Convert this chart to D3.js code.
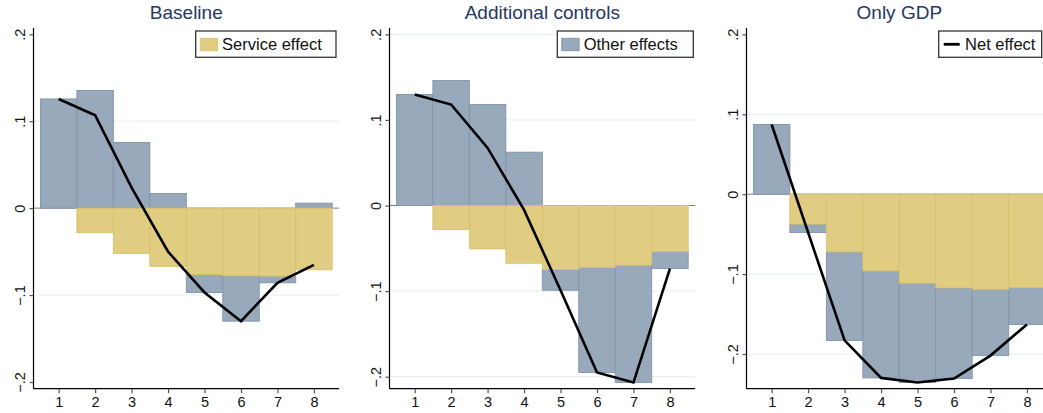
<!DOCTYPE html>
<html>
<head>
<meta charset="utf-8">
<script src="https://cdn.jsdelivr.net/npm/d3@7"></script>
<style>
  html, body { margin: 0; padding: 0; background: #fff; }
  svg { display: block; }
  text { font-family: "Liberation Sans", Arial, sans-serif; }
</style>
</head>
<body>
<svg id="chart" width="1043" height="413"></svg>
<script>
// ---------------- data ----------------
const horizons = [1, 2, 3, 4, 5, 6, 7, 8];
const xTickValues = [1, 2, 3, 4, 5, 6, 7, 8];
const panelTitles = ["Baseline", "Additional controls", "Only GDP"];
const legendLabels = ["Service effect", "Other effects", "Net effect"];
const yTickValues = [-0.2, -0.1, 0, 0.1, 0.2];
const yTickLabels = ["\u2212.2", "\u2212.1", "0", ".1", ".2"];

const serviceBaseline = [0, -0.0284, -0.052, -0.067, -0.0764, -0.0778, -0.0782, -0.0709];
const otherBaseline   = [0.1256, 0.1353, 0.0755, 0.0169, -0.0206, -0.0522, -0.0077, 0.0057];
const netBaseline     = [0.1256, 0.1069, 0.0235, -0.0501, -0.097, -0.130, -0.0859, -0.0652];

const serviceControls = [0, -0.028, -0.0507, -0.0674, -0.0748, -0.0725, -0.0697, -0.0537];
const otherControls   = [0.1297, 0.146, 0.118, 0.0623, -0.0242, -0.1225, -0.1371, -0.0199];
const netControls     = [0.1297, 0.118, 0.0673, -0.0051, -0.099, -0.195, -0.2068, -0.0736];

const serviceGDP = [0, -0.0375, -0.0722, -0.096, -0.1114, -0.1173, -0.119, -0.1168];
const otherGDP   = [0.0872, -0.0105, -0.1108, -0.1339, -0.1243, -0.1134, -0.083, -0.0462];
const netGDP     = [0.0872, -0.048, -0.183, -0.2299, -0.2357, -0.2307, -0.202, -0.163];

// ---------------- layout / style ----------------
const panels = [
  { title: panelTitles[0], service: serviceBaseline, other: otherBaseline, net: netBaseline,
    axisX: 33.5, yDomain: [-0.2077, 0.2072], grid: [0.1, -0.1], legendIdx: 0, legendX: [195.7, 336] },
  { title: panelTitles[1], service: serviceControls, other: otherControls, net: netControls,
    axisX: 389.5, yDomain: [-0.214, 0.2074], grid: [0.2, 0.1, -0.1, -0.2], legendIdx: 1, legendX: [557.3, 693.3] },
  { title: panelTitles[2], service: serviceGDP, other: otherGDP, net: netGDP,
    axisX: 746.5, yDomain: [-0.2434, 0.2079], grid: [0.1, -0.1, -0.2], legendIdx: 2, legendX: [938.7, 1041.7] }
];

const plotTop = 28, plotBottom = 388.7, plotWidth = 305.6;
const xDomain = [0.31, 8.69];
const colService = "#e0cd81", colServiceEdge = "#d6c26c";
const colOther = "#97a9bb", colOtherEdge = "#8093a9";
const titleColor = "#26385f";
const tickFont = "14.5px";

const svg = d3.select("#chart");
svg.append("rect").attr("width", 1043).attr("height", 413).attr("fill", "#fff");

panels.forEach(p => {
  const x = d3.scaleLinear().domain(xDomain).range([p.axisX, p.axisX + plotWidth]);
  const y = d3.scaleLinear().domain(p.yDomain).range([plotBottom, plotTop]);
  const g = svg.append("g");

  // gridlines
  g.selectAll("line.grid").data(p.grid).enter().append("line")
    .attr("x1", x.range()[0]).attr("x2", x.range()[1])
    .attr("y1", d => y(d)).attr("y2", d => y(d))
    .attr("stroke", "#e6eef0").attr("stroke-width", 1);

  // zero line
  g.append("line")
    .attr("x1", x.range()[0]).attr("x2", x.range()[1])
    .attr("y1", y(0)).attr("y2", y(0))
    .attr("stroke", "#808080").attr("stroke-width", 1);

  const rows = horizons.map((h, i) => ({ h, s: p.service[i], o: p.other[i], n: p.net[i] }));
  const halfW = (x(1.5) - x(0.5)) / 2;

  // other effects bars (stacked when same sign as service effect)
  g.selectAll("rect.other").data(rows).enter().append("rect")
    .attr("x", d => x(d.h) - halfW)
    .attr("width", halfW * 2)
    .attr("y", d => {
      const base = (d.o < 0 && d.s < 0) ? d.s : 0;
      return Math.min(y(base), y(base + d.o));
    })
    .attr("height", d => {
      const base = (d.o < 0 && d.s < 0) ? d.s : 0;
      return Math.abs(y(base + d.o) - y(base));
    })
    .attr("fill", colOther).attr("stroke", colOtherEdge).attr("stroke-width", 0.9);

  // service effect bars
  g.selectAll("rect.service").data(rows.filter(d => d.s !== 0)).enter().append("rect")
    .attr("x", d => x(d.h) - halfW)
    .attr("width", halfW * 2)
    .attr("y", d => Math.min(y(0), y(d.s)))
    .attr("height", d => Math.abs(y(d.s) - y(0)))
    .attr("fill", colService).attr("stroke", colServiceEdge).attr("stroke-width", 0.9);

  // net effect line
  g.append("path").datum(rows)
    .attr("d", d3.line().x(d => x(d.h)).y(d => y(d.n)))
    .attr("fill", "none").attr("stroke", "#000").attr("stroke-width", 2.6)
    .attr("stroke-linejoin", "miter");

  // y axis
  const yAxis = d3.axisLeft(y).tickValues(yTickValues)
    .tickFormat((d, i) => yTickLabels[i]).tickSize(4).tickSizeOuter(0);
  const ya = g.append("g").attr("transform", `translate(${p.axisX},0)`).call(yAxis);
  ya.attr("font-size", null).attr("font-family", null);
  ya.select(".domain").attr("stroke", "#000").attr("stroke-width", 1.2)
    .attr("d", `M0,${plotTop}V${plotBottom}`);
  ya.selectAll(".tick line").attr("stroke", "#555").attr("stroke-width", 1.2);
  ya.selectAll(".tick text")
    .attr("x", null).attr("dy", null)
    .attr("text-anchor", "middle")
    .attr("transform", "translate(-9,0) rotate(-90)")
    .style("font-size", tickFont)
    .attr("fill", "#111");

  // x axis
  const xAxis = d3.axisBottom(x).tickValues(xTickValues).tickFormat(d3.format("d"))
    .tickSize(4.5).tickSizeOuter(0);
  const xa = g.append("g").attr("transform", `translate(0,${plotBottom})`).call(xAxis);
  xa.attr("font-size", null).attr("font-family", null);
  xa.select(".domain").attr("stroke", "#000").attr("stroke-width", 1.2)
    .attr("d", `M${x.range()[0]},0H${x.range()[1]}`);
  xa.selectAll(".tick line").attr("stroke", "#555").attr("stroke-width", 1.2);
  xa.selectAll(".tick text")
    .attr("y", 18.3).attr("dy", null)
    .style("font-size", tickFont)
    .attr("fill", "#111");

  // title
  g.append("text")
    .attr("x", (x.range()[0] + x.range()[1]) / 2)
    .attr("y", 18.6)
    .attr("text-anchor", "middle")
    .style("font-size", "19px")
    .attr("fill", titleColor)
    .text(p.title);

  // legend
  const [lx0, lx1] = p.legendX;
  const ly0 = 31, ly1 = 57.3;
  const lg = g.append("g");
  lg.append("rect").attr("x", lx0).attr("y", ly0).attr("width", lx1 - lx0).attr("height", ly1 - ly0)
    .attr("fill", "#fff").attr("stroke", "#333").attr("stroke-width", 1.3);
  if (p.legendIdx === 0 || p.legendIdx === 1) {
    lg.append("rect").attr("x", lx0 + 4.5).attr("y", 38.3).attr("width", 17.3).attr("height", 12.4)
      .attr("fill", p.legendIdx === 0 ? colService : colOther)
      .attr("stroke", p.legendIdx === 0 ? colServiceEdge : colOtherEdge).attr("stroke-width", 0.9);
  } else {
    lg.append("line").attr("x1", lx0 + 5).attr("x2", lx0 + 21).attr("y1", 44.3).attr("y2", 44.3)
      .attr("stroke", "#000").attr("stroke-width", 2.8);
  }
  lg.append("text").attr("x", lx0 + 26.4).attr("y", 50)
    .style("font-size", "16.5px").attr("fill", "#111")
    .text(legendLabels[p.legendIdx]);
});
</script>
</body>
</html>
